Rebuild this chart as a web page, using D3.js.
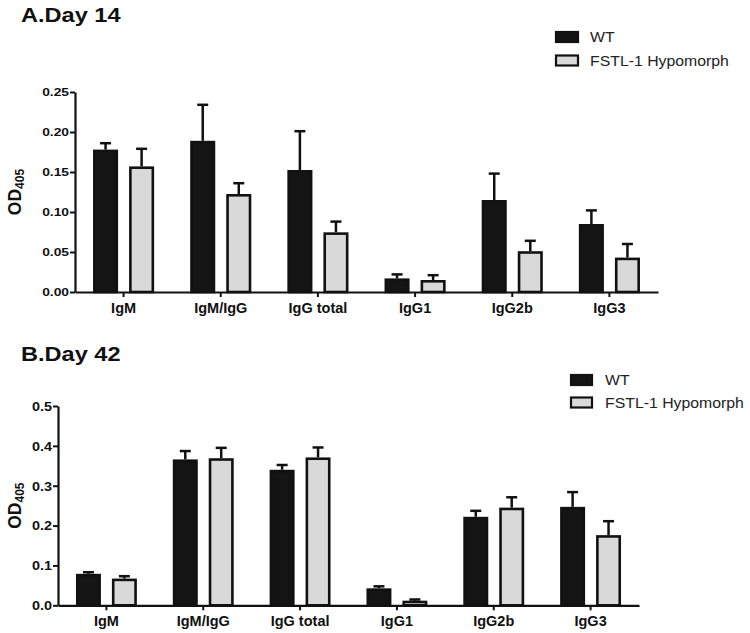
<!DOCTYPE html>
<html>
<head>
<meta charset="utf-8">
<script src="https://cdn.jsdelivr.net/npm/d3@7/dist/d3.min.js"></script>
<style>
  html, body { margin: 0; padding: 0; background: #fff; }
  svg { display: block; font-family: "Liberation Sans", Arial, sans-serif; }
</style>
</head>
<body>
<svg id="chart" width="750" height="633"></svg>
<script>
// ---------- data ----------
const categories = ["IgM", "IgM/IgG", "IgG total", "IgG1", "IgG2b", "IgG3"];
const seriesNames = ["WT", "FSTL-1 Hypomorph"];

const day14WT      = [0.178, 0.189, 0.1525, 0.017, 0.115, 0.085];
const day14WTErr   = [0.008, 0.045, 0.0485, 0.005, 0.033, 0.017];
const day14Hypo    = [0.157, 0.1225, 0.0746, 0.015, 0.051, 0.043];
const day14HypoErr = [0.022, 0.0135, 0.0134, 0.006, 0.013, 0.017];

const day42WT      = [0.079, 0.366, 0.340, 0.0426, 0.222, 0.247];
const day42WTErr   = [0.004, 0.021, 0.012, 0.005, 0.015, 0.037];
const day42Hypo    = [0.067, 0.369, 0.371, 0.0116, 0.245, 0.176];
const day42HypoErr = [0.006, 0.026, 0.025, 0.003, 0.026, 0.035];

const day14Ticks = [0, 0.05, 0.10, 0.15, 0.20, 0.25];
const day42Ticks = [0, 0.1, 0.2, 0.3, 0.4, 0.5];

const fills = ["#141414", "#d9d9d9"];
const ink = "#111";

const svg = d3.select("#chart");

function stretch(sel, factor) {
  sel.each(function () {
    const len = this.getComputedTextLength();
    d3.select(this).attr("textLength", len * factor).attr("lengthAdjust", "spacingAndGlyphs");
  });
}

function drawPanel(cfg) {
  const g = svg.append("g");
  const x = d3.scaleBand().domain(categories).range([cfg.x0, cfg.x1]).paddingInner(0).paddingOuter(0);
  const x1 = d3.scaleBand().domain([0, 1]).range([0, x.bandwidth()]).paddingInner(0.305).paddingOuter(0.5);
  const y = d3.scaleLinear().domain(cfg.domain).range([cfg.yBottom, cfg.yTop]);

  // title
  const t = g.append("text").attr("x", 21).attr("y", cfg.titleY)
    .attr("font-size", 20.5).attr("font-weight", "bold").attr("fill", ink).text(cfg.title);
  stretch(t, 1.15);

  // bars
  const series = [cfg.wt, cfg.hypo];
  const errs = [cfg.wtErr, cfg.hypoErr];
  series.forEach((vals, si) => {
    const grp = g.append("g");
    grp.selectAll("rect").data(vals).join("rect")
      .attr("x", (d, i) => x(categories[i]) + x1(si) + 1.3)
      .attr("width", x1.bandwidth() - 2.6)
      .attr("y", d => y(d) + 1.3)
      .attr("height", d => Math.max(0, y(0) - y(d) - 1.3))
      .attr("fill", fills[si]).attr("stroke", ink).attr("stroke-width", 2.6);
    // error bars (upper only)
    grp.selectAll("line.eb").data(vals).join("line").attr("class", "eb")
      .attr("x1", (d, i) => x(categories[i]) + x1(si) + x1.bandwidth() / 2)
      .attr("x2", (d, i) => x(categories[i]) + x1(si) + x1.bandwidth() / 2)
      .attr("y1", d => y(d))
      .attr("y2", (d, i) => y(d + errs[si][i]))
      .attr("stroke", ink).attr("stroke-width", 2.5);
    grp.selectAll("line.cap").data(vals).join("line").attr("class", "cap")
      .attr("x1", (d, i) => x(categories[i]) + x1(si) + x1.bandwidth() / 2 - 5.5)
      .attr("x2", (d, i) => x(categories[i]) + x1(si) + x1.bandwidth() / 2 + 5.5)
      .attr("y1", (d, i) => y(d + errs[si][i]))
      .attr("y2", (d, i) => y(d + errs[si][i]))
      .attr("stroke", ink).attr("stroke-width", 2.5);
  });

  // y axis
  const ya = g.append("g").attr("transform", `translate(${cfg.x0},0)`)
    .call(d3.axisLeft(y).tickValues(cfg.ticks).tickFormat(d3.format(cfg.fmt)).tickSize(5).tickSizeOuter(0).tickPadding(1));
  ya.select(".domain").attr("stroke", ink).attr("stroke-width", 2.2);
  ya.selectAll(".tick line").attr("stroke", ink).attr("stroke-width", 2);
  ya.selectAll(".tick text").attr("font-size", cfg.tickFont).attr("font-weight", "bold")
    .attr("fill", ink).attr("font-family", "Liberation Sans, Arial, sans-serif");
  stretch(ya.selectAll(".tick text"), cfg.tickStretch);

  // x axis
  const xa = g.append("g").attr("transform", `translate(0,${cfg.yBottom})`)
    .call(d3.axisBottom(x).tickSize(5).tickSizeOuter(0));
  xa.select(".domain").attr("stroke", ink).attr("stroke-width", 2.2);
  xa.selectAll(".tick line").attr("stroke", ink).attr("stroke-width", 2);
  xa.selectAll(".tick text").attr("y", 21).attr("dy", 0)
    .attr("font-size", 14.5).attr("font-weight", "bold").attr("fill", ink)
    .attr("font-family", "Liberation Sans, Arial, sans-serif");

  // y title
  const yc = (cfg.yBottom + cfg.yTop) / 2;
  const yt = g.append("text").attr("transform", `translate(21,${yc}) rotate(-90)`)
    .attr("text-anchor", "middle").attr("font-size", 17.5).attr("font-weight", "bold").attr("fill", ink);
  yt.append("tspan").text("OD");
  yt.append("tspan").attr("font-size", 12).attr("dy", 3).text("405");

  // legend
  const lg = g.append("g");
  seriesNames.forEach((name, si) => {
    const cy = cfg.legY + si * cfg.legGap;
    lg.append("rect").attr("x", cfg.legX + 1).attr("y", cy - 5).attr("width", cfg.legW - 2).attr("height", 10)
      .attr("fill", fills[si]).attr("stroke", ink).attr("stroke-width", 2.2);
    const lt = lg.append("text").attr("x", cfg.legTextX).attr("y", cy + 5)
      .attr("font-size", 14).attr("fill", "#222").text(name);
    stretch(lt, 1.13);
  });
}

drawPanel({
  title: "A.Day 14", titleY: 22,
  x0: 75, x1: 658, yBottom: 292, yTop: 92, domain: [0, 0.25],
  ticks: day14Ticks, fmt: ".2f", tickFont: 11.5, tickStretch: 1.2,
  wt: day14WT, wtErr: day14WTErr, hypo: day14Hypo, hypoErr: day14HypoErr,
  legX: 555, legW: 24, legTextX: 590, legY: 37, legGap: 23.5
});

drawPanel({
  title: "B.Day 42", titleY: 361,
  x0: 58, x1: 639, yBottom: 605.3, yTop: 406, domain: [0, 0.5],
  ticks: day42Ticks, fmt: ".1f", tickFont: 13.5, tickStretch: 1.07,
  wt: day42WT, wtErr: day42WTErr, hypo: day42Hypo, hypoErr: day42HypoErr,
  legX: 570, legW: 23, legTextX: 605, legY: 380, legGap: 22.5
});
</script>
</body>
</html>
